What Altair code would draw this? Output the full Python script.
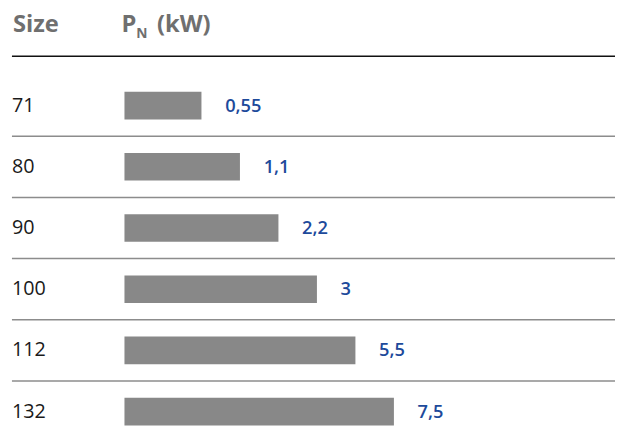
import altair as alt
import pandas as pd

# ---- data ----
sizes = ["71", "80", "90", "100", "112", "132"]
power_labels = ["0,55", "1,1", "2,2", "3", "5,5", "7,5"]
power_kw = [0.55, 1.1, 2.2, 3, 5.5, 7.5]
# bars are drawn in equal steps (not proportional to kW)
bar_steps = [2, 3, 4, 5, 6, 7]

header_size = "Size"
header_p = "P"
header_sub = "N"
header_unit = "(kW)"

df = pd.DataFrame({"size": sizes, "label": power_labels, "kw": power_kw, "step": bar_steps})
df_sep = df.iloc[1:]
hdr = pd.DataFrame({"size": ["hdr"]})

FONT = "Open Sans"
y_scale = alt.Scale(domain=["hdr"] + sizes, paddingInner=0, paddingOuter=0.048)
x_scale = alt.Scale(domain=[0, 10], range=[118, 508])

Y = alt.Y("size:N", scale=y_scale, axis=None, sort=None)
X = alt.X("step:Q", scale=x_scale, axis=None)

bars = alt.Chart(df).mark_bar(size=28, color="#888888").encode(x=X, y=Y)

values = alt.Chart(df).mark_text(
    align="left", baseline="middle", dx=24, font=FONT, fontSize=18.5,
    fontWeight=600, color="#1d4a9b"
).encode(x=X, y=Y, text="label:N")

size_labels = alt.Chart(df).mark_text(
    align="left", baseline="middle", font=FONT, fontSize=20, color="#1a1a1a"
).encode(x=alt.value(4), y=Y, text="size:N")

separators = alt.Chart(df_sep).mark_rule(color="#8c8c8c", strokeWidth=1.5).encode(
    y=alt.Y("size:N", scale=y_scale, axis=None, bandPosition=0),
    x=alt.value(4), x2=alt.value(640)
)

top_line = alt.Chart(hdr).mark_rule(color="#111111", strokeWidth=1.5, yOffset=12).encode(
    y=Y, x=alt.value(4), x2=alt.value(640)
)

h_size = alt.Chart(hdr).mark_text(
    align="left", baseline="middle", dy=-20, font=FONT, fontSize=24,
    fontWeight="bold", color="#6f6f6f", text=header_size
).encode(x=alt.value(5), y=Y)

h_p = alt.Chart(hdr).mark_text(
    align="left", baseline="middle", dy=-20, font=FONT, fontSize=24,
    fontWeight="bold", color="#6f6f6f", text=header_p
).encode(x=alt.value(115), y=Y)

h_sub = alt.Chart(hdr).mark_text(
    align="left", baseline="middle", dy=-10, font=FONT, fontSize=14,
    fontWeight="bold", color="#6f6f6f", text=header_sub
).encode(x=alt.value(130), y=Y)

h_unit = alt.Chart(hdr).mark_text(
    align="left", baseline="middle", dy=-20, font=FONT, fontSize=24,
    fontWeight="bold", color="#6f6f6f", text=header_unit
).encode(x=alt.value(151), y=Y)

chart = alt.layer(
    separators, top_line, bars, values, size_labels, h_size, h_p, h_sub, h_unit
).properties(
    width=615, height=440, autosize=alt.AutoSizeParams(type="none"), padding=0,
    background="white"
).configure_view(stroke=None)

chart.save("out.html", embed_options={"renderer": "svg", "actions": False})
